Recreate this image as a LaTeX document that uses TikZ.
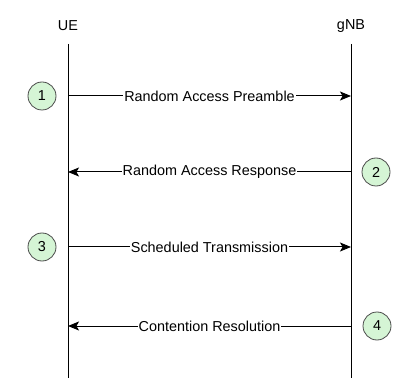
\documentclass[tikz,border=0pt]{standalone}
\usepackage{fontspec}
\setmainfont{Liberation Sans}
\usetikzlibrary{arrows.meta}
\definecolor{stepgreen}{HTML}{D5F5D5}
\begin{document}
\begin{tikzpicture}[x=1pt,y=-1pt,
  every node/.style={font=\fontsize{14.4}{17}\selectfont},
  lifeline/.style={draw=black,line width=1pt},
  msg/.style={draw=black,line width=1pt,-{Stealth[length=11pt,width=9pt,inset=2.5pt]}},
  msglabel/.style={fill=white,inner sep=1pt},
  stepnum/.style={circle,draw=black!70,fill=stepgreen,minimum size=28pt,inner sep=0pt,line width=0.8pt}]
\useasboundingbox (0,0) rectangle (420,387);
\node (ue) at (68,26) {UE};
\node (gnb) at (351,26) {gNB};
\coordinate (ueTop) at (68,44);
\coordinate (ueBot) at (68,378);
\coordinate (gnbTop) at (351,44);
\coordinate (gnbBot) at (351,378);
\draw[lifeline] (ueTop) -- (ueBot);
\draw[lifeline] (gnbTop) -- (gnbBot);
\coordinate (u1) at (68,96);  \coordinate (g1) at (351,96);
\coordinate (u2) at (68,172); \coordinate (g2) at (351,172);
\coordinate (u3) at (68,247); \coordinate (g3) at (351,247);
\coordinate (u4) at (68,326); \coordinate (g4) at (351,326);
\draw[msg] (u1) -- node[msglabel] {Random Access Preamble} (g1);
\draw[msg] (g2) -- node[msglabel] {Random Access Response} (u2);
\draw[msg] (u3) -- node[msglabel] {Scheduled Transmission} (g3);
\draw[msg] (g4) -- node[msglabel] {Contention Resolution} (u4);
\node[stepnum] (s1) at (42,96) {1};
\node[stepnum] (s2) at (376,172) {2};
\node[stepnum] (s3) at (42,247) {3};
\node[stepnum] (s4) at (377,326) {4};
\end{tikzpicture}
\end{document}
